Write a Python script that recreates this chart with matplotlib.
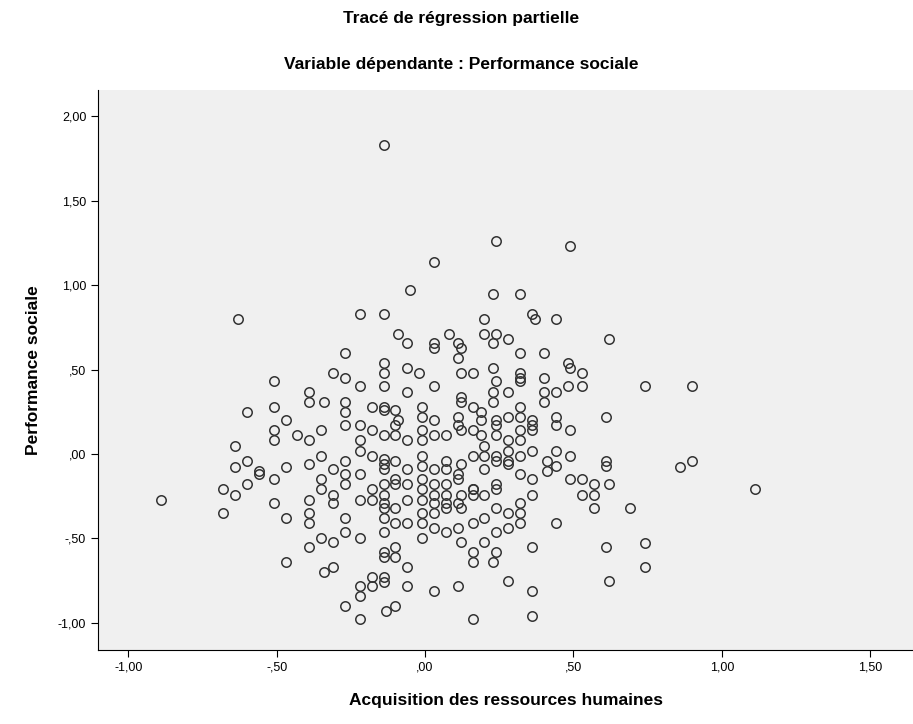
import numpy as np
import matplotlib
matplotlib.use("Agg")
import matplotlib.pyplot as plt

# résidus partiels
acq = [
    -0.14, 0.03, -0.05, 0.24, 0.49, 0.23, 0.32,
    -0.63, -0.51, -0.51, -0.60, -0.47, -0.51, -0.51, -0.43, -0.64, -0.60, -0.64, -0.56, -0.47,
    -0.89, -0.68, -0.64, -0.60, -0.56, -0.51, -0.68, -0.51, -0.47, -0.47,
    -0.22, -0.14, -0.09, -0.06, 0.03, 0.03, 0.08, 0.11, 0.12, 0.11, -0.27, -0.14, -0.14, -0.31,
    -0.27, -0.06, -0.02, 0.12, -0.22, -0.14, -0.06, 0.03, -0.39, -0.39, -0.34, -0.27, -0.27,
    -0.18, -0.14, -0.14, -0.10, -0.01, -0.01, 0.03, 0.12, 0.12, 0.11, 0.11, 0.12, -0.09, -0.10,
    -0.27, -0.22, -0.35, -0.18, -0.14, -0.10, -0.01, -0.01, 0.03, 0.07, -0.06, -0.22, -0.22,
    -0.39, -0.35, -0.27, -0.18, -0.14, -0.14, -0.10, -0.01, -0.01, 0.07, 0.12, -0.39,
    0.20, 0.36, 0.37, 0.44, 0.62, 0.20, 0.24, 0.23, 0.28, 0.32, 0.40, 0.48, 0.49, 0.53, 0.16,
    0.23, 0.32, 0.32, 0.32, 0.40, 0.24, 0.23, 0.28, 0.23, 0.40, 0.40, 0.44, 0.48, 0.53, 0.61,
    0.16, 0.19, 0.19, 0.24, 0.24, 0.28, 0.32, 0.32, 0.36, 0.36, 0.36, 0.44, 0.44, 0.49, 0.16,
    0.19, 0.20, 0.24, 0.28, 0.32, 0.32, 0.28, 0.32, 0.36, 0.16, 0.20, 0.24, 0.24, 0.28, 0.28,
    0.41, 0.44, 0.49, 0.44, 0.61, 0.61,
    0.74, 0.90, 0.90, 0.86,
    -0.31, -0.27, -0.22, -0.14, -0.06, 0.03, 0.07,
    -0.35, -0.27, -0.18, -0.14, -0.14, -0.10, -0.10, -0.06, -0.01, -0.01, 0.03, 0.03, 0.07, 0.07,
    0.11, 0.11, 0.12, 0.16, -0.39, -0.35, -0.31, -0.31, -0.22, -0.18, -0.14, -0.14, -0.10, -0.06,
    -0.01, 0.03, 0.03, 0.07, 0.07, 0.11, 0.12, -0.39, -0.39, -0.27, -0.14, -0.10, -0.06, -0.01,
    -0.01, 0.03, 0.07, 0.11, -0.14, -0.27, -0.22, -0.35, -0.31, -0.39, -0.01, 0.12, -0.14, -0.14,
    -0.10, -0.10, -0.06, -0.34, -0.31, -0.18, -0.14, -0.14, -0.22, -0.18, -0.06, 0.03, 0.11,
    -0.22, -0.27, -0.13, -0.10, -0.22,
    0.20, 0.32, 0.36, 0.41, 0.49, 0.53, 0.57, 0.62, 0.53, 0.57, 0.57, 0.69, 0.16, 0.16, 0.20,
    0.24, 0.24, 0.36, 0.32, 0.32, 0.32, 0.28, 0.24, 0.20, 0.16, 0.28, 0.24, 0.20, 0.16, 0.16,
    0.24, 0.23, 0.36, 0.44, 0.61, 0.62, 0.28, 0.36, 0.36, 0.16,
    1.11, 0.74, 0.74,
]
perf = [
    1.83, 1.14, 0.97, 1.26, 1.23, 0.95, 0.95,
    0.80, 0.43, 0.28, 0.25, 0.20, 0.14, 0.08, 0.11, 0.05, -0.04, -0.08, -0.10, -0.08,
    -0.27, -0.21, -0.24, -0.18, -0.12, -0.15, -0.35, -0.29, -0.38, -0.64,
    0.83, 0.83, 0.71, 0.66, 0.66, 0.63, 0.71, 0.66, 0.63, 0.57, 0.60, 0.54, 0.48, 0.48,
    0.45, 0.51, 0.48, 0.48, 0.40, 0.40, 0.37, 0.40, 0.37, 0.31, 0.31, 0.31, 0.25,
    0.28, 0.28, 0.26, 0.26, 0.28, 0.22, 0.20, 0.34, 0.31, 0.22, 0.17, 0.14, 0.20, 0.17,
    0.17, 0.17, 0.14, 0.14, 0.11, 0.11, 0.14, 0.08, 0.11, 0.11, 0.08, 0.08, 0.02,
    0.08, -0.01, -0.04, -0.01, -0.03, -0.06, -0.04, -0.01, -0.07, -0.04, -0.06, -0.06,
    0.80, 0.83, 0.80, 0.80, 0.68, 0.71, 0.71, 0.66, 0.68, 0.60, 0.60, 0.54, 0.51, 0.48, 0.48,
    0.51, 0.48, 0.45, 0.43, 0.45, 0.43, 0.37, 0.37, 0.31, 0.37, 0.31, 0.37, 0.40, 0.40, 0.22,
    0.28, 0.25, 0.20, 0.20, 0.17, 0.22, 0.28, 0.22, 0.20, 0.17, 0.14, 0.22, 0.17, 0.14, 0.14,
    0.11, 0.05, 0.11, 0.08, 0.14, 0.08, 0.02, -0.01, 0.02, -0.01, -0.01, -0.01, -0.04, -0.04, -0.06,
    -0.04, 0.02, -0.01, -0.07, -0.04, -0.07,
    0.40, 0.40, -0.04, -0.08,
    -0.09, -0.12, -0.12, -0.09, -0.09, -0.09, -0.09,
    -0.15, -0.18, -0.21, -0.18, -0.24, -0.15, -0.18, -0.18, -0.15, -0.21, -0.18, -0.24, -0.18, -0.24,
    -0.15, -0.12, -0.24, -0.21, -0.27, -0.21, -0.24, -0.29, -0.27, -0.27, -0.29, -0.32, -0.32, -0.27,
    -0.27, -0.29, -0.35, -0.29, -0.32, -0.29, -0.32, -0.35, -0.41, -0.38, -0.38, -0.41, -0.41, -0.35,
    -0.41, -0.44, -0.46, -0.44, -0.46, -0.46, -0.50, -0.50, -0.52, -0.55, -0.50, -0.52, -0.58, -0.61,
    -0.55, -0.61, -0.67, -0.70, -0.67, -0.73, -0.73, -0.76, -0.78, -0.78, -0.78, -0.81, -0.78,
    -0.84, -0.90, -0.93, -0.90, -0.98,
    -0.09, -0.12, -0.15, -0.10, -0.15, -0.15, -0.18, -0.18, -0.24, -0.24, -0.32, -0.32, -0.21, -0.24, -0.24,
    -0.18, -0.21, -0.24, -0.29, -0.35, -0.41, -0.35, -0.32, -0.38, -0.41, -0.44, -0.46, -0.52, -0.58, -0.64,
    -0.58, -0.64, -0.55, -0.41, -0.55, -0.75, -0.75, -0.81, -0.96, -0.98,
    -0.21, -0.53, -0.67,
]

x_ticks = [-1.0, -0.5, 0.0, 0.5, 1.0, 1.5]
y_ticks = [-1.0, -0.5, 0.0, 0.5, 1.0, 1.5, 2.0]


def spss_fmt(v, pos=None):
    s = "{:.2f}".format(abs(v)).replace(".", ",")
    if s.startswith("0"):
        s = s[1:]
    return ("-" if v < 0 else "") + s


fig = plt.figure(figsize=(9.13, 7.24), dpi=100)
ax = fig.add_axes([98 / 913, 1 - 650 / 724, 815 / 913, 560 / 724])
ax.set_facecolor("#f0f0f0")

ax.plot(acq, perf, "o", markersize=6.8, markerfacecolor="none",
        markeredgecolor="#333333", markeredgewidth=1.1, linestyle="none")

ax.set_xlim(-1.102, 1.644)
ax.set_ylim(-1.161, 2.156)
ax.set_xticks(x_ticks)
ax.set_yticks(y_ticks)
ax.xaxis.set_major_formatter(plt.FuncFormatter(spss_fmt))
ax.yaxis.set_major_formatter(plt.FuncFormatter(spss_fmt))
ax.tick_params(direction="out", length=5, width=0.8, labelsize=9, colors="black")
for lab in ax.get_xticklabels() + ax.get_yticklabels():
    lab.set_family("Liberation Sans")

ax.spines["top"].set_visible(False)
ax.spines["right"].set_visible(False)
ax.spines["left"].set_color("black")
ax.spines["bottom"].set_color("black")

ax.set_xlabel("Acquisition des ressources humaines", fontsize=12.5,
              fontweight="bold", family="Liberation Sans", labelpad=14)
ax.set_ylabel("Performance sociale", fontsize=12.5, fontweight="bold",
              family="Liberation Sans", labelpad=12)

fig.text(0.505, 1 - 18 / 724, "Tracé de régression partielle", ha="center", va="center",
         fontsize=12.5, fontweight="bold", family="Liberation Sans")
fig.text(0.505, 1 - 65 / 724, "Variable dépendante : Performance sociale", ha="center",
         va="center", fontsize=12.5, fontweight="bold", family="Liberation Sans")

fig.savefig("out.png", dpi=100)
